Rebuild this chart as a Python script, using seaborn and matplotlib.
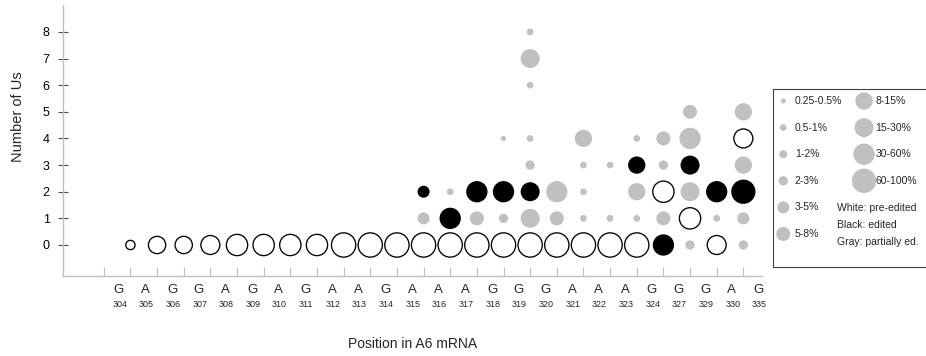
import pandas as pd
import matplotlib
matplotlib.use("Agg")
import matplotlib.pyplot as plt
import matplotlib.transforms as mtransforms
import seaborn as sns

# edited sites shown as bubble columns, plus the letters/numbers under the axis
sites = [304, 305, 306, 307, 308, 309, 310, 311, 312, 313, 314, 315, 316, 317,
         318, 319, 320, 321, 322, 323, 324, 327, 329, 330]
axis_sites = sites + [335]
axis_bases = ["G", "A", "G", "G", "A", "G", "A", "G", "A", "A", "G", "A", "A",
              "A", "G", "G", "G", "A", "A", "A", "G", "G", "G", "A", "G"]

pct_bins = ["0.25-0.5%", "0.5-1%", "1-2%", "2-3%", "3-5%", "5-8%",
            "8-15%", "15-30%", "30-60%", "60-100%"]

# bubbles: site, number of Us, frequency bin (index into pct_bins), state
# W = pre-edited (white), B = edited (black), G = partially edited (gray)
bub_site = (
    [304, 305, 306, 307, 308, 309, 310, 311, 312, 313, 314, 315, 316, 317,
     318, 319, 320, 321, 322, 323, 324, 327, 329, 330]
    + [315, 316, 317, 318, 319, 320, 321, 322, 323, 324, 327, 329, 330]
    + [315, 316, 317, 318, 319, 320, 321, 323, 324, 327, 329, 330]
    + [319, 321, 322, 323, 324, 327, 330]
    + [318, 319, 321, 323, 324, 327, 330]
    + [327, 330]
    + [319]
    + [319]
    + [319]
)
bub_us = [0] * 24 + [1] * 13 + [2] * 12 + [3] * 7 + [4] * 7 + [5] * 2 + [6] + [7] + [8]
bub_bin = (
    [3, 6, 6, 7, 8, 8, 8, 8, 9, 9, 9, 9, 9, 9, 9, 9, 9, 9, 9, 9, 8, 3, 7, 3]
    + [4, 8, 5, 3, 7, 5, 1, 1, 1, 5, 8, 1, 4]
    + [4, 1, 8, 8, 7, 8, 1, 6, 8, 7, 8, 9]
    + [3, 1, 1, 6, 3, 7, 6]
    + [0, 1, 6, 1, 5, 8, 7]
    + [5, 6]
    + [1]
    + [7]
    + [1]
)
bub_state = list(
    "WWWWWWWWWWWWWWWWWWWWBGWG"
    "GBGGGGGGGGWGG"
    "BGBBBGGGWGBB"
    "GGGBGBG"
    "GGGGGGW"
    "GG"
    "G"
    "G"
    "G"
)

DPI = 100
W, H = 926, 356
bin_diam_px = [5, 6.7, 8, 9.3, 12, 14, 17.3, 19, 21.3, 24.3]
size_map = {lab: (d * 72 / DPI) ** 2 for lab, d in zip(pct_bins, bin_diam_px)}
GRAY = "#c0c0c0"
AXIS = "#bfbfbf"
styles = {
    "W": dict(color="white", edgecolor="black", linewidth=0.95),
    "B": dict(color="black", edgecolor="none", linewidth=0),
    "G": dict(color=GRAY, edgecolor="none", linewidth=0),
}

df = pd.DataFrame({"site": bub_site, "us": bub_us,
                   "pct": [pct_bins[i] for i in bub_bin], "state": bub_state})
df["x"] = df["site"].map({s: i for i, s in enumerate(sites)})

sns.set_style("white")
plt.rcParams["font.family"] = ["Liberation Sans", "DejaVu Sans"]

fig = plt.figure(figsize=(W / DPI, H / DPI), dpi=DPI)
ax = fig.add_axes([63 / W, 80 / H, 699 / W, 271 / H])

for st in ["W", "B", "G"]:
    sub = df[df["state"] == st]
    sns.scatterplot(data=sub, x="x", y="us", size="pct", sizes=size_map,
                    legend=False, ax=ax, zorder=3, **styles[st])

ax.set_xlim(-2.53, 23.70)
ax.set_ylim(-1.164, 9.01)
ax.set_xlabel("")
ax.set_ylabel("")
sns.despine(ax=ax)
for side in ["left", "bottom"]:
    ax.spines[side].set_color(AXIS)
    ax.spines[side].set_linewidth(1.0)

ax.set_yticks(range(9))
ax.tick_params(axis="y", left=True, direction="inout", length=7.2, width=0.8,
               color="#505050", labelsize=9, pad=6.0, labelcolor="black")
ax.set_xticks(range(-1, len(sites)))
ax.set_xticklabels([])
ax.tick_params(axis="x", bottom=True, direction="in", length=6.5, width=0.8,
               color=AXIS)

trans = mtransforms.blended_transform_factory(ax.transData, ax.transAxes)
for i, (b, s) in enumerate(zip(axis_bases, axis_sites)):
    ax.text(i - 0.43, (66 - 80) / 271, b, transform=trans, ha="center",
            va="center", fontsize=9.5)
    ax.text(i - 0.40, (51.5 - 80) / 271, str(s), transform=trans, ha="center",
            va="center", fontsize=6.5)

fig.text(18 / W, 1 - 117 / H, "Number of Us", rotation=90, ha="center",
         va="center", fontsize=10.5)
fig.text(413 / W, 1 - 344 / H, "Position in A6 mRNA", ha="center",
         va="center", fontsize=10)

# legend box
lax = fig.add_axes([773 / W, (H - 267) / H, 162 / W, 178 / H])
lax.set_xlim(0, 162)
lax.set_ylim(178, 0)
lax.set_xticks([])
lax.set_yticks([])
for sp in lax.spines.values():
    sp.set_visible(True)
    sp.set_color("#404040")
    sp.set_linewidth(0.8)

leg = pd.DataFrame({"pct": pct_bins})
leg["x"] = [10.3] * 6 + [91] * 4
leg["y"] = [12 + 26.6 * k for k in range(6)] + [12 + 26.6 * k for k in range(4)]
sns.scatterplot(data=leg, x="x", y="y", size="pct", sizes=size_map,
                color=GRAY, edgecolor="none", linewidth=0, legend=False, ax=lax)
lax.set_xlabel("")
lax.set_ylabel("")
for _, r in leg.iterrows():
    lax.text(r["x"] + 11.5, r["y"], r["pct"], ha="left", va="center", fontsize=7.5)
for k, line in enumerate(["White: pre-edited", "Black: edited", "Gray: partially ed."]):
    lax.text(64, 119 + 17 * k, line, ha="left", va="center", fontsize=7.5)

fig.savefig("out.png", dpi=DPI)
